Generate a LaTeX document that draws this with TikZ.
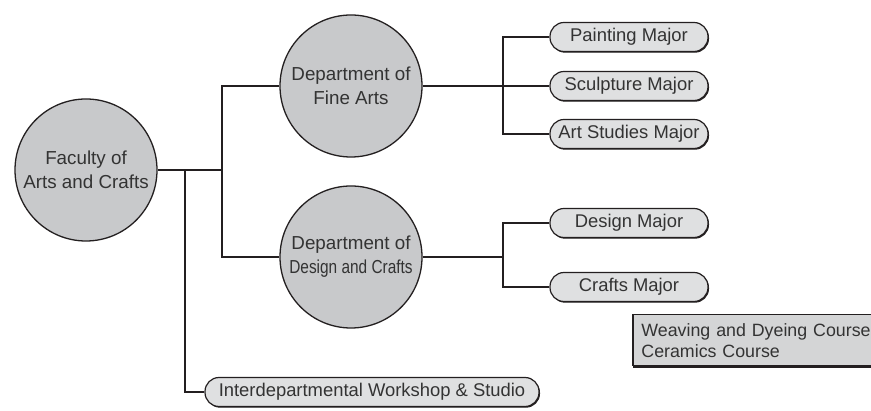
\documentclass[tikz,border=0pt]{standalone}
\usepackage{fontspec}
\setmainfont{Liberation Sans}
\usetikzlibrary{shadows}
\definecolor{unitgray}{HTML}{C8C9CB}
\definecolor{majorgray}{HTML}{DFE0E1}
\definecolor{coursegray}{HTML}{D4D5D6}
\definecolor{ink}{HTML}{231F20}
\tikzset{unit/.style={circle, draw=ink, line width=0.65pt, fill=unitgray, minimum size=71pt, inner sep=0pt, align=center, text=black!80, font=\fontsize{9.4}{12}\selectfont},
major/.style={rectangle, rounded corners=7pt, draw=ink, line width=0.6pt, fill=majorgray, minimum width=#1, minimum height=14.5pt, inner sep=0pt, text=black!80, font=\fontsize{9.2}{11}\selectfont, drop shadow={shadow xshift=0.5pt, shadow yshift=-0.6pt, opacity=1, fill=ink}},
%default width of a major box
major/.default={79pt},
link/.style={draw=ink, line width=0.75pt}}

\begin{document}
\begin{tikzpicture}[x=0.5pt, y=0.5pt]
\useasboundingbox (0,0) rectangle (871,411);

\node[unit] (fac) at (86,241) {Faculty of\\Arts and Crafts};
\node[unit] (fine) at (351,325) {Department of\\Fine Arts};
\node[unit] (des) at (351,154) {Department of\\\scalebox{0.82}[1]{Design and Crafts}};

\foreach \n/\y/\t in {paint/374/Painting Major, sculpt/325/Sculpture Major, artst/277/Art Studies Major, desmaj/188/Design Major, crafts/124/Crafts Major}
    \node[major] (\n) at (629,\y) {\t};

\node[major=167pt] (inter) at (372,19) {Interdepartmental Workshop \& Studio};

\coordinate (fj) at (222,241);
\coordinate (wj) at (185,241);
\coordinate (fa) at (503,325);
\coordinate (da) at (503,154);

\draw[link] (fac.east) -- (fj);
\draw[link] (fine.west) -| (fj) |- (des.west);
\draw[link] (wj) |- (inter.west);
\draw[link] (fine.east) -- (fa);
\draw[link] (des.east) -- (da);

\foreach \n in {paint, sculpt, artst}
    \draw[link] (fa) |- (\n.west);

\foreach \n in {desmaj, crafts}
    \draw[link] (da) |- (\n.west);

\node[anchor=west, fill=coursegray, minimum width=119pt, minimum height=25.5pt, text width=116pt, inner xsep=4pt, inner ysep=0pt, align=left, text=black!80, font=\fontsize{8.9}{10.5}\selectfont] (courses) at (633,70.5) {Weaving and Dyeing Course\\Ceramics Course};
\draw[ink, line width=0.6pt] (courses.north east) -- (courses.north west) -- (courses.south west);
\draw[ink, line width=1.2pt] (courses.south west) -- (courses.south east);

\end{tikzpicture}
\end{document}
